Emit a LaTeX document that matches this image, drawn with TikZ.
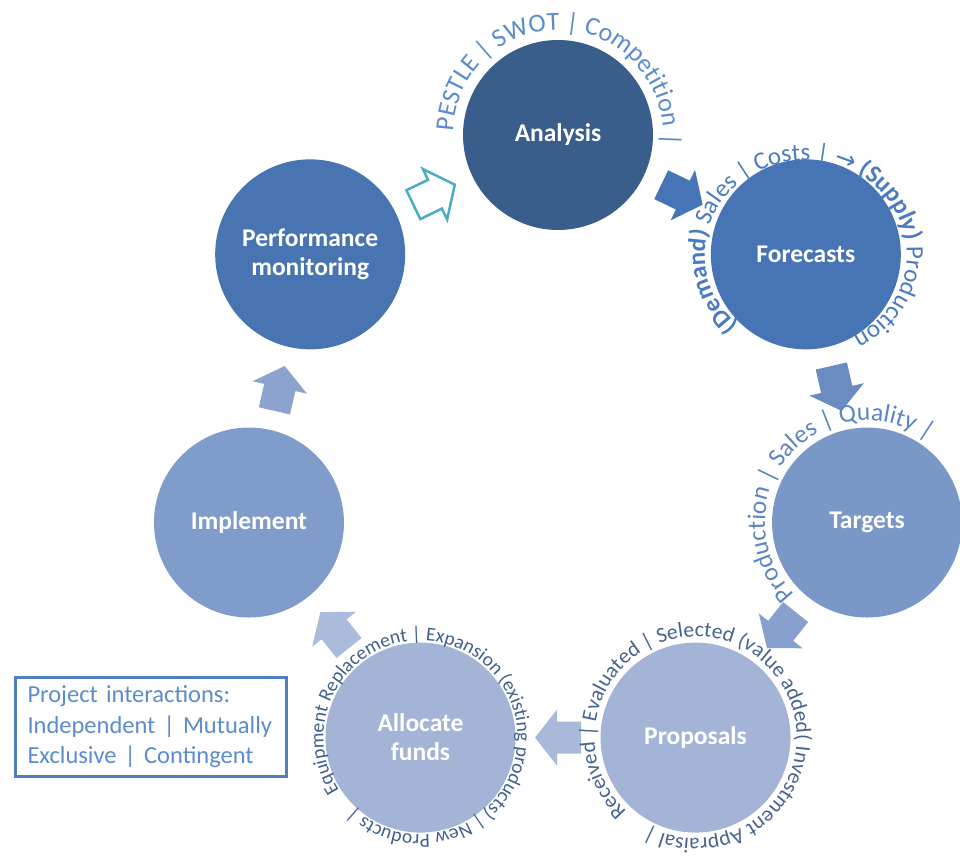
\documentclass[tikz,border=0pt]{standalone}
\usepackage{fontspec}
\setmainfont{Carlito}
\newfontfamily\arrowf{DejaVu Sans}
\usetikzlibrary{calc,decorations.text}
\definecolor{cA}{HTML}{395E8C}
\definecolor{cF}{HTML}{4774B4}
\definecolor{cM}{HTML}{4874B2}
\definecolor{cT}{HTML}{7A98C7}
\definecolor{cI}{HTML}{7F9CCB}
\definecolor{cP}{HTML}{A3B4D6}
\definecolor{cL}{HTML}{A3B4D6}
\definecolor{aAF}{HTML}{4674B6}
\definecolor{aFT}{HTML}{6A8CC0}
\definecolor{aTP}{HTML}{87A0CD}
\definecolor{aPL}{HTML}{A8B9DA}
\definecolor{aLI}{HTML}{AABBDC}
\definecolor{aIM}{HTML}{8CA3CF}
\definecolor{aMA}{HTML}{4BACC6}
\definecolor{txA}{HTML}{5B8CCB}
\definecolor{txF}{HTML}{4A7BBF}
\definecolor{txT}{HTML}{5B86C4}
\definecolor{txP}{HTML}{46648F}
\definecolor{txL}{HTML}{40608C}
\definecolor{txB}{HTML}{5B8CCB}
\definecolor{boxc}{HTML}{4F7FBE}
\newcommand\fmtA{\fontsize{26}{30}\selectfont\color{txA}}
\newcommand\fmtF{\fontsize{25}{30}\selectfont\color{txF}}
\newcommand\fmtFb{\fontsize{25}{30}\selectfont\bfseries\color{txF}}
\newcommand\fmtT{\fontsize{25.5}{30}\selectfont\color{txT}}
\newcommand\fmtP{\fontsize{21.5}{26}\selectfont\color{txP}}
\newcommand\fmtL{\fontsize{19.5}{24}\selectfont\color{txL}}
\begin{document}
\begin{tikzpicture}[x=1pt,y=1pt,
  circ/.style={circle, minimum size=190pt, inner sep=0pt, text=white,
    font=\fontsize{25.5}{29}\selectfont\bfseries, align=center},
  ringtext/.style={decorate, decoration={text along path,
    text format delimiters={*}{*}, text align=left}},
  barrow/.pic={\path[pic actions] (-23pt,-16pt) -- (1pt,-16pt) -- (1pt,-28pt)
     -- (23pt,0pt) -- (1pt,28pt) -- (1pt,16pt) -- (-23pt,16pt) -- cycle;}
]
\useasboundingbox (0,0) rectangle (960,861);
\coordinate (C) at (558,409);
% circles
\node[circ, fill=cA] (an) at ($(C)+(90:317pt)$) {Analysis};
\node[circ, fill=cF] (fc) at ($(C)+(38.571:317pt)$) {Forecasts};
\node[circ, fill=cT] (tg) at ($(C)+(-12.857:317pt)$) {Targets};
\node[circ, fill=cP] (pr) at ($(C)+(-64.286:317pt)$) {Proposals};
\node[circ, fill=cL] (al) at ($(C)+(-115.714:317pt)$) {Allocate\\funds};
\node[circ, fill=cI] (im) at ($(C)+(-167.143:317pt)$) {Implement};
\node[circ, fill=cM] (pm) at ($(C)+(141.429:317pt)$) {Performance\\monitoring};
% block arrows between consecutive circles
\pic[fill=aAF, rotate=-25.714] at ($(an)!0.5!(fc)$) {barrow};
\pic[fill=aFT, rotate=-77.143] at ($(fc)!0.5!(tg)$) {barrow};
\pic[fill=aTP, rotate=-128.571] at ($(tg)!0.5!(pr)$) {barrow};
\pic[fill=aPL, rotate=180] at ($(pr)!0.5!(al)$) {barrow};
\pic[fill=aLI, rotate=128.571] at ($(al)!0.5!(im)$) {barrow};
\pic[fill=aIM, rotate=77.143] at ($(im)!0.5!(pm)$) {barrow};
\pic[draw=aMA, fill=white, line width=2.5pt, line join=miter, rotate=25.714] at ($(pm)!0.5!(an)$) {barrow};
% ring texts
\path[ringtext, decoration={text={*\fmtA*PESTLE | SWOT | Competition |}}]
  ($(an)+(178:105pt)$) arc[start angle=178, end angle=-60, radius=105pt];
\path[ringtext, decoration={text={*\fmtFb*(Demand) *\fmtF*Sales | Costs | {\arrowf →} *\fmtFb*(Supply) *\fmtF*Production}}]
  ($(fc)+(228:101pt and 94pt)$) arc[start angle=228, end angle=-80, x radius=101pt, y radius=94pt];
\path[ringtext, decoration={text={*\fmtT*Production | Sales | Quality |}}]
  ($(tg)+(225:102pt)$) arc[start angle=225, end angle=20, radius=102pt];
\path[ringtext, decoration={text={*\fmtP*Received | Evaluated | Selected (value added( Investment Appraisal |}}]
  ($(pr)+(227:101pt)$) arc[start angle=227, end angle=-132, radius=101pt];
\path[ringtext, decoration={text={*\fmtL*Equipment Replacement | Expansion (existing products) | New Products |}}]
  ($(al)+(213:97pt)$) arc[start angle=213, end angle=-146, radius=97pt];
% box
\node[draw=boxc, line width=2.5pt, minimum width=271pt, minimum height=99pt,
  text width=247pt, inner xsep=12pt, align=left, text=txB,
  font=\fontsize{24.5}{30.5}\selectfont] (box) at (151,134)
  {Project interactions:\\Independent | Mutually\\Exclusive | Contingent};
\end{tikzpicture}
\end{document}
